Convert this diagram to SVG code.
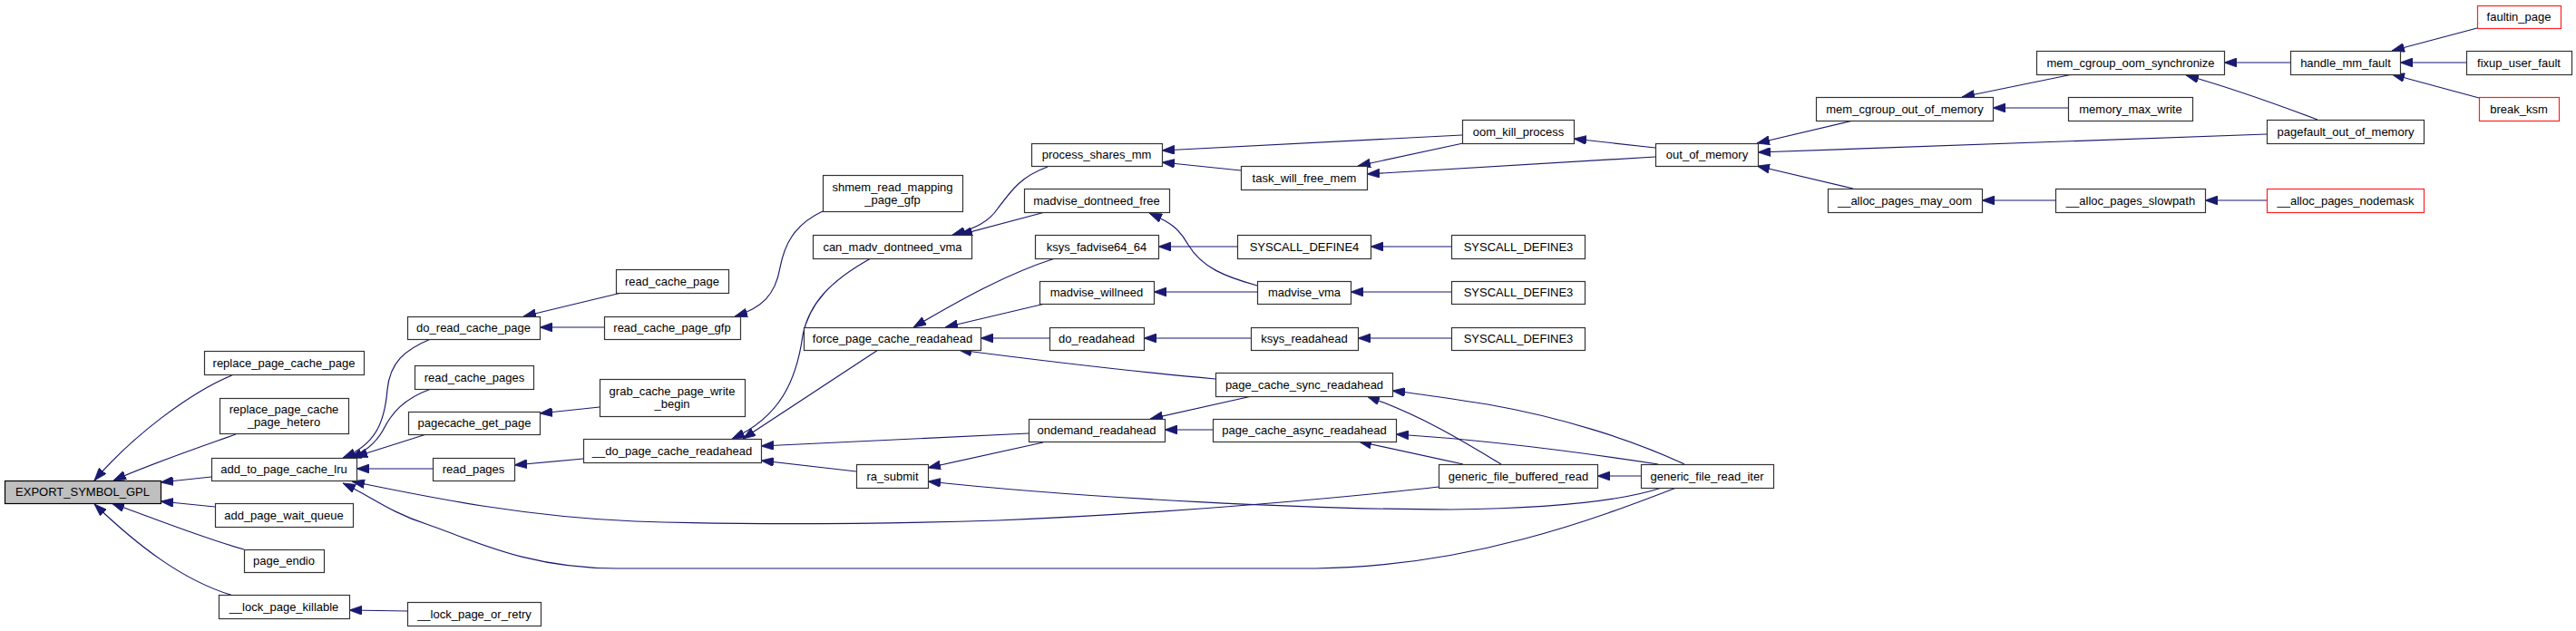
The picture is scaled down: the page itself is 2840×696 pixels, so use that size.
<svg xmlns="http://www.w3.org/2000/svg" width="2840" height="696" viewBox="0 0 2840 696">
<style>
.node rect{fill:#ffffff;stroke:#333333;stroke-width:1.2}
.root rect{fill:#bfbfbf;stroke:#000000;stroke-width:1.2}
.trunc rect{fill:#ffffff;stroke:#ff2020;stroke-width:1.2}
text{font-family:"Liberation Sans",Arial,sans-serif;font-size:13px;fill:#000000;text-anchor:middle}
.edges path{fill:none;stroke:#191970;stroke-width:1.2;marker-end:url(#ah)}
</style>
<defs>
<marker id="ah" markerUnits="userSpaceOnUse" markerWidth="14" markerHeight="10" refX="14" refY="5" orient="auto">
<path d="M0,0 L14,5 L0,10 z" fill="#191970" stroke="#191970" stroke-width="0.8"/>
</marker>
</defs>
<rect width="2840" height="696" fill="#ffffff"/>
<g class="edges">
<path d="M258,413 C210,432 145,482 104,530"/>
<path d="M260,479 C215,495 165,512 125,530"/>
<path d="M233,526 L177,532"/>
<path d="M237,559 L177,553"/>
<path d="M269,606 C225,594 165,570 123,555"/>
<path d="M257,657 C200,640 150,600 104,556"/>
<path d="M477,373 C445,386 430,400 427,430 C424,465 415,490 378,505"/>
<path d="M475,429 C445,440 432,455 422,475 C412,492 400,500 385,505"/>
<path d="M470,479 L391,504"/>
<path d="M477,517 L393,517"/>
<path d="M1586,537 C1500,547 1300,566 1100,574 C900,580 760,577 700,575 C580,570 480,550 388,531"/>
<path d="M1848,538 C1760,572 1620,625 1450,627 L680,627 C580,627 520,595 470,578 C430,565 410,548 378,533"/>
<path d="M449,674 L385,673"/>
<path d="M685,323 L577,349"/>
<path d="M666,361 L595,361"/>
<path d="M907,233 C875,248 865,270 860,295 C855,325 840,340 810,349"/>
<path d="M661,449 L595,456"/>
<path d="M643,506 L567,513"/>
<path d="M960,285 C915,310 892,335 885,370 C878,420 860,460 807,484"/>
<path d="M968,386 L819,484"/>
<path d="M1134,478 L839,492"/>
<path d="M944,520 L839,508"/>
<path d="M1155,184 C1125,195 1115,210 1100,230 C1090,245 1075,252 1050,259"/>
<path d="M1152,234 L1058,259"/>
<path d="M1163,285 C1110,302 1060,330 1007,361"/>
<path d="M1152,335 L1042,361"/>
<path d="M1157,373 L1081,373"/>
<path d="M1340,418 C1250,410 1150,398 1057,386"/>
<path d="M1379,373 L1261,373"/>
<path d="M1600,373 L1497,373"/>
<path d="M1380,437 L1268,462"/>
<path d="M1337,474 L1284,474"/>
<path d="M1150,488 L1023,516"/>
<path d="M1832,538 C1780,555 1700,561 1600,562 C1450,562 1200,550 1023,531"/>
<path d="M1655,512 C1610,485 1570,460 1507,437"/>
<path d="M1857,512 C1800,485 1720,460 1640,446 C1600,440 1570,435 1535,431"/>
<path d="M1613,512 L1498,487"/>
<path d="M1828,512 C1750,500 1650,486 1539,479"/>
<path d="M1809,525 L1761,525"/>
<path d="M1612,149 L1281,166"/>
<path d="M1368,188 L1281,179"/>
<path d="M1613,158 L1497,183"/>
<path d="M1825,173 L1507,192"/>
<path d="M1825,163 L1735,153"/>
<path d="M1386,315 C1350,305 1325,295 1310,270 C1300,252 1290,245 1267,235"/>
<path d="M1386,322 L1272,322"/>
<path d="M1364,272 L1277,272"/>
<path d="M1600,272 L1511,272"/>
<path d="M1600,322 L1489,322"/>
<path d="M2043,133 L1937,158"/>
<path d="M2499,148 L1938,168"/>
<path d="M2043,208 L1937,183"/>
<path d="M2285,82 L2163,107"/>
<path d="M2280,119 L2197,119"/>
<path d="M2266,221 L2185,221"/>
<path d="M2499,221 L2431,221"/>
<path d="M2525,69 L2452,69"/>
<path d="M2555,132 C2510,115 2460,97 2410,83"/>
<path d="M2731,31 L2637,56"/>
<path d="M2719,69 L2646,69"/>
<path d="M2733,108 L2637,82"/>
</g>
<g id="n_export_symbol_gpl" class="root"><rect x="5.5" y="530.5" width="172" height="25"/><text x="91" y="547">EXPORT_SYMBOL_GPL</text></g>
<g id="n_replace_page_cache_page" class="node"><rect x="225.5" y="387.5" width="176" height="26"/><text x="313" y="404.5">replace_page_cache_page</text></g>
<g id="n_replace_page_cache_page_hetero" class="node"><rect x="242.5" y="439.5" width="142" height="39"/><text x="313" y="456">replace_page_cache</text><text x="313" y="470">_page_hetero</text></g>
<g id="n_add_to_page_cache_lru" class="node"><rect x="233.5" y="505.5" width="160" height="25"/><text x="313" y="522">add_to_page_cache_lru</text></g>
<g id="n_add_page_wait_queue" class="node"><rect x="237.5" y="555.5" width="152" height="26"/><text x="313" y="572.5">add_page_wait_queue</text></g>
<g id="n_page_endio" class="node"><rect x="269.5" y="606.5" width="88" height="25"/><text x="313" y="623">page_endio</text></g>
<g id="n_lock_page_killable" class="node"><rect x="241.5" y="656.5" width="144" height="26"/><text x="313" y="673.5">__lock_page_killable</text></g>
<g id="n_do_read_cache_page" class="node"><rect x="449.5" y="349.5" width="146" height="25"/><text x="522" y="366">do_read_cache_page</text></g>
<g id="n_read_cache_pages" class="node"><rect x="457.5" y="403.5" width="131" height="26"/><text x="523" y="420.5">read_cache_pages</text></g>
<g id="n_pagecache_get_page" class="node"><rect x="450.5" y="454.5" width="145" height="25"/><text x="523" y="471">pagecache_get_page</text></g>
<g id="n_read_pages" class="node"><rect x="477.5" y="505.5" width="90" height="25"/><text x="522" y="522">read_pages</text></g>
<g id="n_lock_page_or_retry" class="node"><rect x="449.5" y="664.5" width="147" height="26"/><text x="523" y="681.5">__lock_page_or_retry</text></g>
<g id="n_read_cache_page" class="node"><rect x="679.5" y="297.5" width="124" height="26"/><text x="741" y="314.5">read_cache_page</text></g>
<g id="n_read_cache_page_gfp" class="node"><rect x="666.5" y="349.5" width="150" height="25"/><text x="741" y="366">read_cache_page_gfp</text></g>
<g id="n_grab_cache_page_write_begin" class="node"><rect x="661.5" y="418.5" width="160" height="41"/><text x="741" y="436">grab_cache_page_write</text><text x="741" y="450">_begin</text></g>
<g id="n_do_page_cache_readahead" class="node"><rect x="643.5" y="484.5" width="196" height="26"/><text x="741" y="501.5">__do_page_cache_readahead</text></g>
<g id="n_shmem_read_mapping_page_gfp" class="node"><rect x="907.5" y="193.5" width="154" height="40"/><text x="984" y="210.5">shmem_read_mapping</text><text x="984" y="224.5">_page_gfp</text></g>
<g id="n_can_madv_dontneed_vma" class="node"><rect x="896.5" y="259.5" width="175" height="26"/><text x="984" y="276.5">can_madv_dontneed_vma</text></g>
<g id="n_force_page_cache_readahead" class="node"><rect x="886.5" y="361.5" width="195" height="25"/><text x="984" y="378">force_page_cache_readahead</text></g>
<g id="n_ra_submit" class="node"><rect x="944.5" y="512.5" width="79" height="26"/><text x="984" y="529.5">ra_submit</text></g>
<g id="n_process_shares_mm" class="node"><rect x="1137.5" y="158.5" width="144" height="25"/><text x="1209" y="175">process_shares_mm</text></g>
<g id="n_madvise_dontneed_free" class="node"><rect x="1129.5" y="208.5" width="160" height="26"/><text x="1209" y="225.5">madvise_dontneed_free</text></g>
<g id="n_ksys_fadvise64_64" class="node"><rect x="1141.5" y="259.5" width="136" height="26"/><text x="1209" y="276.5">ksys_fadvise64_64</text></g>
<g id="n_madvise_willneed" class="node"><rect x="1146.5" y="310.5" width="126" height="25"/><text x="1209" y="327">madvise_willneed</text></g>
<g id="n_do_readahead" class="node"><rect x="1157.5" y="361.5" width="104" height="25"/><text x="1209" y="378">do_readahead</text></g>
<g id="n_ondemand_readahead" class="node"><rect x="1134.5" y="462.5" width="150" height="25"/><text x="1209" y="479">ondemand_readahead</text></g>
<g id="n_task_will_free_mem" class="node"><rect x="1368.5" y="183.5" width="139" height="26"/><text x="1438" y="200.5">task_will_free_mem</text></g>
<g id="n_syscall_define4" class="node"><rect x="1364.5" y="259.5" width="147" height="26"/><text x="1438" y="276.5">SYSCALL_DEFINE4</text></g>
<g id="n_madvise_vma" class="node"><rect x="1386.5" y="310.5" width="103" height="25"/><text x="1438" y="327">madvise_vma</text></g>
<g id="n_ksys_readahead" class="node"><rect x="1379.5" y="361.5" width="118" height="25"/><text x="1438" y="378">ksys_readahead</text></g>
<g id="n_page_cache_sync_readahead" class="node"><rect x="1340.5" y="411.5" width="195" height="26"/><text x="1438" y="428.5">page_cache_sync_readahead</text></g>
<g id="n_page_cache_async_readahead" class="node"><rect x="1337.5" y="462.5" width="202" height="25"/><text x="1438" y="479">page_cache_async_readahead</text></g>
<g id="n_oom_kill_process" class="node"><rect x="1612.5" y="132.5" width="123" height="26"/><text x="1674" y="149.5">oom_kill_process</text></g>
<g id="n_syscall_define3_a" class="node"><rect x="1600.5" y="259.5" width="147" height="26"/><text x="1674" y="276.5">SYSCALL_DEFINE3</text></g>
<g id="n_syscall_define3_b" class="node"><rect x="1600.5" y="310.5" width="147" height="25"/><text x="1674" y="327">SYSCALL_DEFINE3</text></g>
<g id="n_syscall_define3_c" class="node"><rect x="1600.5" y="361.5" width="147" height="25"/><text x="1674" y="378">SYSCALL_DEFINE3</text></g>
<g id="n_generic_file_buffered_read" class="node"><rect x="1586.5" y="512.5" width="175" height="26"/><text x="1674" y="529.5">generic_file_buffered_read</text></g>
<g id="n_generic_file_read_iter" class="node"><rect x="1809.5" y="512.5" width="146" height="26"/><text x="1882" y="529.5">generic_file_read_iter</text></g>
<g id="n_out_of_memory" class="node"><rect x="1825.5" y="158.5" width="113" height="25"/><text x="1882" y="175">out_of_memory</text></g>
<g id="n_mem_cgroup_out_of_memory" class="node"><rect x="2002.5" y="107.5" width="195" height="26"/><text x="2100" y="124.5">mem_cgroup_out_of_memory</text></g>
<g id="n_alloc_pages_may_oom" class="node"><rect x="2015.5" y="208.5" width="170" height="26"/><text x="2100" y="225.5">__alloc_pages_may_oom</text></g>
<g id="n_mem_cgroup_oom_synchronize" class="node"><rect x="2245.5" y="56.5" width="207" height="26"/><text x="2349" y="73.5">mem_cgroup_oom_synchronize</text></g>
<g id="n_memory_max_write" class="node"><rect x="2280.5" y="107.5" width="137" height="26"/><text x="2349" y="124.5">memory_max_write</text></g>
<g id="n_alloc_pages_slowpath" class="node"><rect x="2266.5" y="208.5" width="165" height="26"/><text x="2349" y="225.5">__alloc_pages_slowpath</text></g>
<g id="n_handle_mm_fault" class="node"><rect x="2525.5" y="56.5" width="121" height="26"/><text x="2586" y="73.5">handle_mm_fault</text></g>
<g id="n_pagefault_out_of_memory" class="node"><rect x="2499.5" y="132.5" width="173" height="26"/><text x="2586" y="149.5">pagefault_out_of_memory</text></g>
<g id="n_alloc_pages_nodemask" class="trunc"><rect x="2499.5" y="208.5" width="173" height="26"/><text x="2586" y="225.5">__alloc_pages_nodemask</text></g>
<g id="n_faultin_page" class="trunc"><rect x="2731.5" y="6.5" width="92" height="25"/><text x="2777" y="23">faultin_page</text></g>
<g id="n_fixup_user_fault" class="node"><rect x="2719.5" y="56.5" width="116" height="26"/><text x="2777" y="73.5">fixup_user_fault</text></g>
<g id="n_break_ksm" class="trunc"><rect x="2733.5" y="107.5" width="88" height="26"/><text x="2777" y="124.5">break_ksm</text></g>
</svg>
